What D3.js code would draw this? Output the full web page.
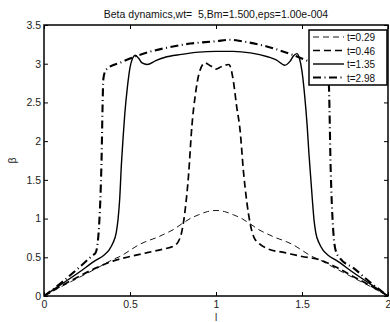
<!DOCTYPE html>
<html>
<head>
<meta charset="utf-8">
<script src="https://cdn.jsdelivr.net/npm/d3@7"></script>
<style>
  body { margin: 0; background: #fff; }
  svg { display: block; font-family: "Liberation Sans", Arial, sans-serif; }
</style>
</head>
<body>
<div id="chart"></div>
<script>
// ---- data ----
const x029 = [0, 0.1, 0.2, 0.3, 0.4, 0.45, 0.5, 0.55, 0.6, 0.65, 0.7, 0.75, 0.8, 0.85, 0.9, 0.95, 1.0,
              1.05, 1.1, 1.15, 1.2, 1.25, 1.3, 1.35, 1.4, 1.45, 1.5, 1.55, 1.6, 1.7, 1.8, 1.9, 2.0];
const y029 = [0, 0.12, 0.235, 0.35, 0.47, 0.52, 0.59, 0.66, 0.71, 0.75, 0.80, 0.855, 0.93, 1.0, 1.05, 1.09, 1.105,
              1.09, 1.05, 1.0, 0.93, 0.855, 0.80, 0.75, 0.71, 0.66, 0.59, 0.52, 0.47, 0.35, 0.235, 0.12, 0];

const x046 = [0, 0.1, 0.2, 0.3, 0.4, 0.5, 0.6, 0.7, 0.75, 0.78, 0.8, 0.82, 0.84, 0.86, 0.88, 0.9, 0.935, 0.97, 1.0,
              1.03, 1.075, 1.1, 1.12, 1.14, 1.16, 1.18, 1.2, 1.22, 1.25, 1.3, 1.4, 1.5, 1.6, 1.7, 1.8, 1.9, 2.0];
const y046 = [0, 0.13, 0.25, 0.36, 0.45, 0.51, 0.56, 0.61, 0.64, 0.70, 0.82, 1.1, 1.55, 2.2, 2.6, 2.86, 3.01, 2.97, 2.93,
              2.96, 2.99, 2.79, 2.45, 2.14, 1.6, 1.2, 0.92, 0.76, 0.68, 0.61, 0.56, 0.51, 0.47, 0.37, 0.25, 0.13, 0];

const x135 = [0, 0.1, 0.2, 0.3, 0.35, 0.38, 0.4, 0.42, 0.43, 0.44, 0.45, 0.46, 0.47, 0.485, 0.5, 0.515, 0.53, 0.55,
              0.57, 0.6, 0.65, 0.7, 0.8, 0.9, 1.0, 1.1, 1.2, 1.3, 1.35, 1.4, 1.43, 1.45, 1.47, 1.485, 1.5,
              1.515, 1.53, 1.54, 1.55, 1.56, 1.57, 1.58, 1.6, 1.62, 1.65, 1.7, 1.8, 1.9, 2.0];
const y135 = [0, 0.15, 0.30, 0.46, 0.53, 0.60, 0.68, 0.82, 0.98, 1.25, 1.7, 2.05, 2.36, 2.7, 2.95, 3.07, 3.11, 3.07,
              3.01, 2.99, 3.04, 3.08, 3.12, 3.15, 3.16, 3.16, 3.14, 3.09, 3.05, 2.98, 3.03, 3.1, 3.13, 3.07, 2.9,
              2.6, 2.2, 1.85, 1.55, 1.25, 0.98, 0.82, 0.68, 0.60, 0.53, 0.46, 0.30, 0.15, 0];

const x298 = [0, 0.1, 0.2, 0.28, 0.3, 0.31, 0.32, 0.33, 0.335, 0.34, 0.345, 0.355, 0.37, 0.45, 0.55, 0.7, 0.85, 1.0,
              1.08, 1.15, 1.3, 1.45, 1.55, 1.63, 1.645, 1.655, 1.66, 1.665, 1.67, 1.68, 1.69, 1.7, 1.72, 1.8, 1.9, 2.0];
const y298 = [0, 0.17, 0.36, 0.52, 0.56, 0.65, 0.9, 1.4, 1.8, 2.4, 2.8, 2.9, 2.94, 3.02, 3.11, 3.2, 3.26, 3.29,
              3.31, 3.29, 3.22, 3.11, 3.02, 2.94, 2.9, 2.8, 2.4, 1.8, 1.4, 0.9, 0.65, 0.56, 0.49, 0.36, 0.17, 0];

const seriesNames = ["t=0.29", "t=0.46", "t=1.35", "t=2.98"];
const xTicks = [0, 0.5, 1, 1.5, 2];
const yTicks = [0, 0.5, 1, 1.5, 2, 2.5, 3, 3.5];
const titleText = "Beta dynamics,wt=  5,Bm=1.500,eps=1.00e-004";

// ---- drawing ----
const W = 390, H = 322;
const plot = { left: 44, right: 388, top: 25, bottom: 296 };

const svg = d3.select("#chart").append("svg")
    .attr("width", W)
    .attr("height", H);

const xScale = d3.scaleLinear().domain([0, 2]).range([plot.left, plot.right]);
const yScale = d3.scaleLinear().domain([0, 3.5]).range([plot.bottom, plot.top]);

const styles = [
    { width: 0.9, dash: "6,4" },
    { width: 1.7, dash: "7,4" },
    { width: 1.4, dash: null },
    { width: 2.1, dash: "8,3.5,1,3.5" }
];

const series = [
    { name: seriesNames[0], xs: x029, ys: y029 },
    { name: seriesNames[1], xs: x046, ys: y046 },
    { name: seriesNames[2], xs: x135, ys: y135 },
    { name: seriesNames[3], xs: x298, ys: y298 }
];

const lineGen = d3.line()
    .x(d => xScale(d[0]))
    .y(d => yScale(d[1]))
    .curve(d3.curveMonotoneX);

// clip so lines stay inside the box
svg.append("clipPath").attr("id", "clip")
    .append("rect")
    .attr("x", plot.left).attr("y", plot.top)
    .attr("width", plot.right - plot.left)
    .attr("height", plot.bottom - plot.top);

const lines = svg.append("g").attr("clip-path", "url(#clip)");

series.forEach((s, i) => {
    const pts = s.xs.map((x, k) => [x, s.ys[k]]);
    lines.append("path")
        .datum(pts)
        .attr("fill", "none")
        .attr("stroke", "#000")
        .attr("stroke-width", styles[i].width)
        .attr("stroke-dasharray", styles[i].dash)
        .attr("stroke-linejoin", "round")
        .attr("d", lineGen);
});

// axes, MATLAB style: ticks inside on all four sides
const tickLen = 4;
const axB = svg.append("g").attr("transform", `translate(0,${plot.bottom})`)
    .call(d3.axisBottom(xScale).tickValues(xTicks).tickSize(-tickLen).tickPadding(5).tickFormat(d3.format("")));
const axT = svg.append("g").attr("transform", `translate(0,${plot.top})`)
    .call(d3.axisTop(xScale).tickValues(xTicks).tickSize(-tickLen).tickFormat(""));
const axL = svg.append("g").attr("transform", `translate(${plot.left},0)`)
    .call(d3.axisLeft(yScale).tickValues(yTicks).tickSize(-tickLen).tickPadding(3).tickFormat(d3.format("")));
const axR = svg.append("g").attr("transform", `translate(${plot.right},0)`)
    .call(d3.axisRight(yScale).tickValues(yTicks).tickSize(-tickLen).tickFormat(""));

[axB, axT, axL, axR].forEach(a => {
    a.select(".domain").remove();
    a.selectAll("line").attr("stroke", "#000").attr("stroke-width", 1);
    a.selectAll("text")
        .attr("font-family", "Liberation Sans, Arial, sans-serif")
        .attr("font-size", 10.5)
        .attr("fill", "#222");
});

svg.append("rect")
    .attr("x", plot.left).attr("y", plot.top)
    .attr("width", plot.right - plot.left)
    .attr("height", plot.bottom - plot.top)
    .attr("fill", "none")
    .attr("stroke", "#000")
    .attr("stroke-width", 1.5);

// title and labels
svg.append("text")
    .attr("x", (plot.left + plot.right) / 2)
    .attr("y", 18)
    .attr("text-anchor", "middle")
    .attr("font-size", 10.5)
    .attr("fill", "#111")
    .style("white-space", "pre")
    .text(titleText);

svg.append("text")
    .attr("x", (plot.left + plot.right) / 2)
    .attr("y", 321)
    .attr("text-anchor", "middle")
    .attr("font-size", 10)
    .attr("fill", "#222")
    .text("l");

svg.append("text")
    .attr("transform", `translate(16,${(plot.top + plot.bottom) / 2}) rotate(-90)`)
    .attr("text-anchor", "middle")
    .attr("font-size", 10.5)
    .attr("fill", "#222")
    .text("β");

// legend
const legend = svg.append("g").attr("transform", "translate(309,30)");
legend.append("rect")
    .attr("width", 78).attr("height", 55)
    .attr("fill", "#fff")
    .attr("stroke", "#000")
    .attr("stroke-width", 1.5);

series.forEach((s, i) => {
    const yy = 7 + i * 13.5;
    legend.append("line")
        .attr("x1", 4).attr("x2", 35)
        .attr("y1", yy).attr("y2", yy)
        .attr("stroke", "#000")
        .attr("stroke-width", styles[i].width)
        .attr("stroke-dasharray", styles[i].dash);
    legend.append("text")
        .attr("x", 38).attr("y", yy + 4)
        .attr("font-size", 10)
        .attr("fill", "#111")
        .text(s.name);
});
</script>
</body>
</html>
